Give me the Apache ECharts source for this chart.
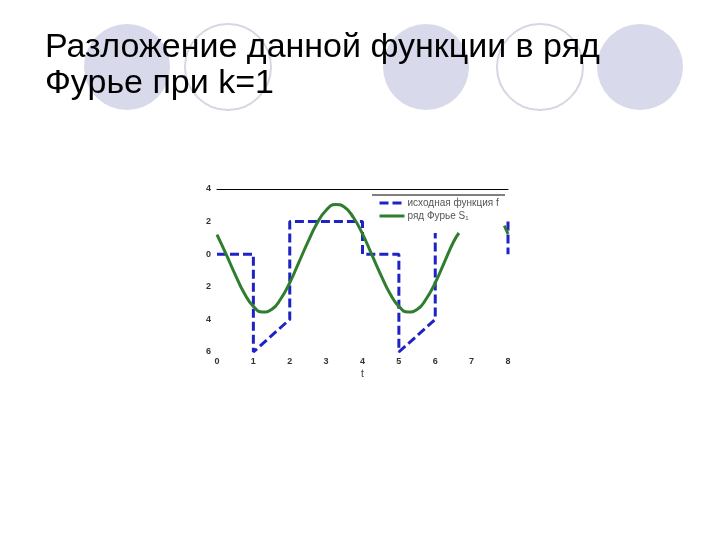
<!DOCTYPE html>
<html>
<head>
<meta charset="utf-8">
<script src="https://cdn.jsdelivr.net/npm/echarts@6/dist/echarts.min.js"></script>
<style>
  html, body { margin: 0; padding: 0; background: #fff; }
  #main { width: 720px; height: 540px; }
</style>
</head>
<body>
<div id="main"></div>
<script>
// исходная функция f: (t, f) по точкам ломаной, null = разрыв
let fT = [0, 1, 1, 2, 2, 4, 4, 5, 5, 6, 6, null, 8, 8];
let fV = [0, 0, -6, -4, 2, 2, 0, 0, -6, -4, 1.3, null, 2, 0];

// ряд Фурье S1
let sT = [0, 0.25, 0.5, 0.75, 1, 1.25, 1.5, 1.75, 2, 2.25, 2.5, 2.75, 3, 3.25, 3.5, 3.75, 4,
          4.25, 4.5, 4.75, 5, 5.25, 5.5, 5.75, 6, 6.25, 6.5, 6.65, null, 7.9, 8];
let sV = [1.2, 0.0, -1.25, -2.4, -3.2, -3.55, -3.4, -2.75, -1.75, -0.5, 0.75, 1.9, 2.7, 3.05, 2.9, 2.25, 1.25,
          0.0, -1.25, -2.4, -3.2, -3.55, -3.4, -2.75, -1.75, -0.5, 0.75, 1.3, null, 1.75, 1.25];

function pairs(xs, ys) {
    let out = [];
    for (let i = 0; i < xs.length; i++) {
        out.push(xs[i] === null ? [null, null] : [xs[i], ys[i]]);
    }
    return out;
}

let myChart = echarts.init(document.getElementById('main'));

// декоративные круги слайда
let circles = [
    { cx: 127, fill: true },
    { cx: 228, fill: false },
    { cx: 426, fill: true },
    { cx: 540, fill: false },
    { cx: 640, fill: true }
];
let graphics = circles.map(function (c) {
    return {
        type: 'circle',
        z: -10,
        shape: { cx: c.cx, cy: 67, r: 43 },
        style: c.fill
            ? { fill: '#d9d9ec' }
            : { fill: 'none', stroke: '#d6d6e4', lineWidth: 2 }
    };
});
// верхняя граница легенды
graphics.push({
    type: 'line',
    shape: { x1: 372, y1: 195, x2: 505, y2: 195 },
    style: { stroke: '#000', lineWidth: 1 }
});

let option = {
    backgroundColor: '#fff',
    animation: false,
    graphic: graphics,
    title: {
        text: 'Разложение данной функции в ряд\nФурье при k=1',
        left: 40,
        top: 25,
        textStyle: {
            fontFamily: 'Liberation Sans',
            fontSize: 34,
            lineHeight: 36,
            fontWeight: 'normal',
            color: '#000'
        }
    },
    legend: {
        orient: 'vertical',
        left: 373,
        top: 193,
        itemWidth: 25,
        itemHeight: 8,
        itemGap: 3,
        itemStyle: { opacity: 0 },
        lineStyle: { width: 3 },
        textStyle: { fontSize: 10, color: '#555', fontFamily: 'Liberation Sans', padding: [0, 0, 0, -2] },
        data: ['исходная функция f', 'ряд Фурье S₁']
    },
    grid: { left: 217, right: 212, top: 189, bottom: 188 },
    xAxis: [{
        type: 'value',
        min: 0,
        max: 8,
        interval: 1,
        name: 't',
        nameLocation: 'middle',
        nameGap: 17,
        nameTextStyle: { fontSize: 10, color: '#333' },
        axisLine: { show: false },
        axisTick: { show: false },
        splitLine: { show: false },
        axisLabel: { fontSize: 9, color: '#333', fontWeight: 'bold', margin: 5 }
    }, {
        type: 'value',
        position: 'top',
        min: 0,
        max: 8,
        axisLine: { show: true, lineStyle: { color: '#000', width: 1 } },
        axisTick: { show: false },
        axisLabel: { show: false },
        splitLine: { show: false }
    }],
    yAxis: {
        type: 'value',
        min: -6,
        max: 4,
        interval: 2,
        axisLine: { show: false },
        axisTick: { show: false },
        splitLine: { show: false },
        axisLabel: {
            fontSize: 9,
            color: '#333',
            fontWeight: 'bold',
            margin: 6,
            formatter: function (v) { return String(Math.abs(v)); }
        }
    },
    series: [
        {
            name: 'исходная функция f',
            type: 'line',
            data: pairs(fT, fV),
            symbol: 'none',
            connectNulls: false,
            itemStyle: { color: '#1f22c4' },
            lineStyle: { color: '#1f22c4', width: 3, type: [9, 4] }
        },
        {
            name: 'ряд Фурье S₁',
            type: 'line',
            data: pairs(sT, sV),
            smooth: true,
            symbol: 'none',
            connectNulls: false,
            itemStyle: { color: '#2f7d2f' },
            lineStyle: { color: '#2f7d2f', width: 3 }
        }
    ]
};

myChart.setOption(option);
</script>
</body>
</html>
